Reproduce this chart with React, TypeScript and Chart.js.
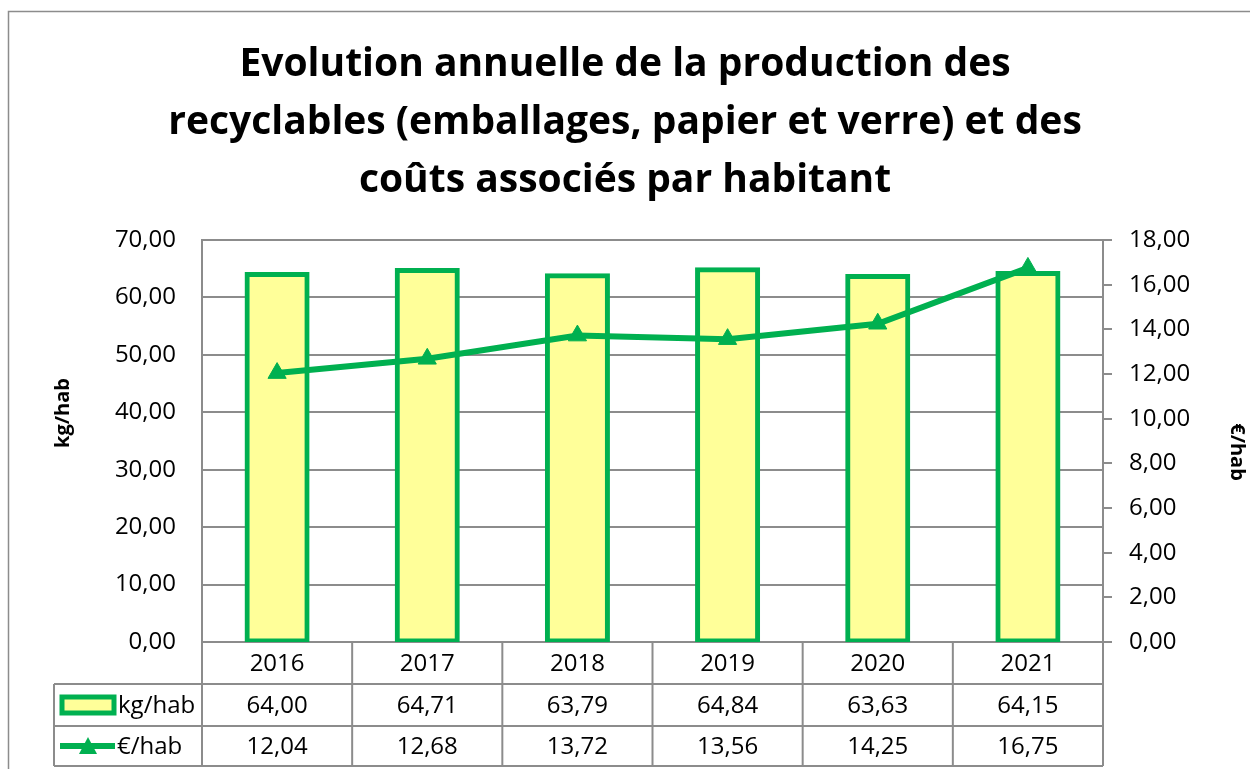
import React, { useEffect, useRef } from "react";
import { Chart, registerables } from "chart.js";

Chart.register(...registerables);

const years = ["2016", "2017", "2018", "2019", "2020", "2021"];
const kgPerHab = [64.0, 64.71, 63.79, 64.84, 63.63, 64.15];
const eurPerHab = [12.04, 12.68, 13.72, 13.56, 14.25, 16.75];
const titleLines = [
  "Evolution annuelle de la production des",
  "recyclables (emballages, papier et verre) et des",
  "coûts associés par habitant",
];
const kgLabel = "kg/hab";
const eurLabel = "€/hab";

const GREEN = "#00B050";
const YELLOW = "#FFFF99";
const GRAY = "#8c8c8c";
const FONT = "'Open Sans', sans-serif";

const fmt = (v: number) => v.toFixed(2).replace(".", ",");

const tablePlugin = {
  id: "dataTable",
  afterDraw(chart: any) {
    const ctx = chart.ctx;
    const area = chart.chartArea;
    const n = years.length;
    const catW = (area.right - area.left) / n;
    const r0 = area.bottom;
    const r1 = r0 + 42;
    const r2 = r1 + 42;
    const r3 = r2 + 40;
    const legLeft = 54;
    ctx.save();
    ctx.strokeStyle = GRAY;
    ctx.lineWidth = 2;
    ctx.beginPath();
    [r1, r2, r3].forEach((y) => {
      ctx.moveTo(legLeft, y);
      ctx.lineTo(area.right, y);
    });
    for (let i = 0; i <= n; i++) {
      const x = area.left + i * catW;
      ctx.moveTo(x, r0);
      ctx.lineTo(x, r3);
    }
    ctx.moveTo(legLeft, r1);
    ctx.lineTo(legLeft, r3);
    ctx.stroke();

    ctx.fillStyle = "#000";
    ctx.font = `24px ${FONT}`;
    ctx.textAlign = "center";
    ctx.textBaseline = "middle";
    const xs = chart.scales.x;
    years.forEach((y, i) => {
      const cx = xs.getPixelForValue(i);
      ctx.fillText(y, cx, (r0 + r1) / 2 + 1);
      ctx.fillText(fmt(kgPerHab[i]), cx, (r1 + r2) / 2 + 1);
      ctx.fillText(fmt(eurPerHab[i]), cx, (r2 + r3) / 2 + 1);
    });

    // legend keys
    const k1 = (r1 + r2) / 2;
    ctx.fillStyle = YELLOW;
    ctx.fillRect(62, k1 - 8, 52, 16);
    ctx.strokeStyle = GREEN;
    ctx.lineWidth = 5;
    ctx.strokeRect(62, k1 - 8, 52, 16);
    ctx.fillStyle = "#000";
    ctx.textAlign = "left";
    ctx.fillText(kgLabel, 118, k1 + 1);

    const k2 = (r2 + r3) / 2;
    ctx.strokeStyle = GREEN;
    ctx.lineWidth = 6;
    ctx.beginPath();
    ctx.moveTo(60, k2);
    ctx.lineTo(115, k2);
    ctx.stroke();
    ctx.fillStyle = GREEN;
    ctx.beginPath();
    ctx.moveTo(88, k2 - 9);
    ctx.lineTo(97, k2 + 8);
    ctx.lineTo(79, k2 + 8);
    ctx.closePath();
    ctx.fill();
    ctx.fillStyle = "#000";
    ctx.fillText(eurLabel, 117, k2 + 1);

    // axis titles
    ctx.font = `bold 20px ${FONT}`;
    ctx.textAlign = "center";
    ctx.save();
    ctx.translate(63, 413);
    ctx.rotate(-Math.PI / 2);
    ctx.fillText(kgLabel, 0, 0);
    ctx.restore();
    ctx.save();
    ctx.translate(1237, 452);
    ctx.rotate(Math.PI / 2);
    ctx.fillText(eurLabel, 0, 0);
    ctx.restore();

    // outer border
    ctx.strokeStyle = GRAY;
    ctx.lineWidth = 1.5;
    ctx.strokeRect(8.5, 11.5, 1300, 800);
    ctx.restore();
  },
};

export default function App() {
  const ref = useRef<HTMLCanvasElement>(null);
  useEffect(() => {
    document.body.style.margin = "0";
    const chart = new Chart(ref.current!, {
      type: "bar",
      data: {
        labels: years,
        datasets: [
          {
            type: "line",
            label: eurLabel,
            data: eurPerHab,
            yAxisID: "y1",
            borderColor: GREEN,
            backgroundColor: GREEN,
            borderWidth: 6,
            pointStyle: "triangle",
            pointRadius: 10.5,
            pointBorderWidth: 1,
            pointBackgroundColor: GREEN,
            pointBorderColor: GREEN,
            tension: 0,
            order: 0,
          } as any,
          {
            type: "bar",
            label: kgLabel,
            data: kgPerHab,
            yAxisID: "y",
            backgroundColor: YELLOW,
            borderColor: GREEN,
            borderWidth: 5,
            borderSkipped: false,
            inflateAmount: 2.5,
            barPercentage: 0.4,
            categoryPercentage: 1,
            order: 1,
          } as any,
        ],
      },
      options: {
        responsive: false,
        animation: false,
        layout: { padding: 0 },
        plugins: {
          legend: { display: false },
          tooltip: { enabled: false },
          title: {
            display: true,
            text: titleLines,
            color: "#000",
            font: { family: FONT, size: 39, weight: "bold", lineHeight: 58 / 39 },
            padding: { top: 36, bottom: 30 },
          },
        },
        scales: {
          x: {
            grid: { display: false },
            border: { display: false },
            ticks: { display: false },
            afterFit: (s: any) => {
              s.height = 127;
            },
          },
          y: {
            position: "left",
            min: 0,
            max: 70,
            ticks: {
              stepSize: 10,
              padding: 26,
              color: "#000",
              font: { family: FONT, size: 24 },
              callback: (v: any) => fmt(Number(v)),
            },
            grid: { color: GRAY, lineWidth: 2, drawTicks: false },
            border: { display: true, color: GRAY, width: 2 },
            afterFit: (s: any) => {
              s.width = 202;
            },
          },
          y1: {
            position: "right",
            min: 0,
            max: 18,
            ticks: {
              stepSize: 2,
              padding: 17,
              color: "#000",
              font: { family: FONT, size: 24 },
              callback: (v: any) => fmt(Number(v)),
            },
            grid: { drawOnChartArea: false, color: GRAY, lineWidth: 2, tickLength: 9 },
            border: { display: true, color: GRAY, width: 2 },
            afterFit: (s: any) => {
              s.width = 147;
            },
          },
        },
      },
      plugins: [tablePlugin],
    });
    return () => chart.destroy();
  }, []);
  return (
    <div style={{ position: "absolute", left: 0, top: 0, width: 1250, height: 769, background: "#fff" }}>
      <canvas ref={ref} width={1250} height={769} />
    </div>
  );
}
